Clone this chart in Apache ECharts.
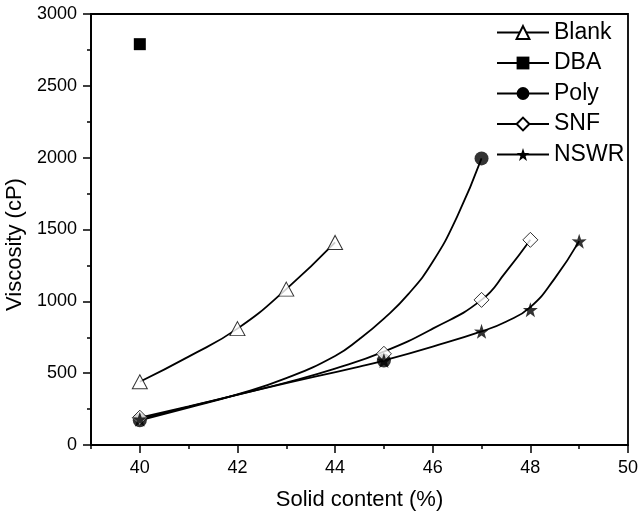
<!DOCTYPE html>
<html>
<head>
<meta charset="utf-8">
<style>
  html, body { margin: 0; padding: 0; background: #fff; }
  #chart { width: 639px; height: 518px; }
</style>
<script src="https://cdn.jsdelivr.net/npm/echarts@6/dist/echarts.min.js"></script>
</head>
<body>
<div id="chart"></div>
<script>
const blankX = [40, 42, 43, 44]
const blankY = [440, 810, 1085, 1410]
const dbaX = [40]
const dbaY = [2790]
const polyX = [40, 45, 47]
const polyY = [172, 588, 1995]
const snfX = [40, 45, 47, 48]
const snfY = [190, 635, 1010, 1428]
const nswrX = [40, 45, 47, 48, 49]
const nswrY = [180, 588, 791, 942, 1419]

// the drawn curves are fitted lines (they miss some points)
const blankFitX = [40, 41, 42, 43, 44]
const blankFitY = [440, 615, 810, 1085, 1410]
const polyFitX = [40, 41, 42, 43, 44, 44.5, 45, 45.5, 46, 46.5, 47]
const polyFitY = [172, 260, 352, 465, 620, 738, 880, 1050, 1275, 1590, 1995]
const snfFitX = [40, 41, 42, 43, 44, 45, 46, 47, 47.5, 48]
const snfFitY = [190, 268, 350, 435, 532, 650, 810, 1010, 1205, 1428]
const nswrFitX = [40, 42.5, 44.5, 45, 46, 47, 47.5, 48, 48.5, 49]
const nswrFitY = [180, 390, 546, 588, 685, 791, 858, 960, 1160, 1419]

const xTickLabels = [40, 42, 44, 46, 48, 50]
const legendNames = ['Blank', 'DBA', 'Poly', 'SNF', 'NSWR']

const fontFamily = "'Liberation Sans', Arial, sans-serif"
const starPath = 'path://M50,0 L61.8,35.1 L97.6,34.5 L69,56.3 L79.4,90.5 L50,70 L20.6,90.5 L31,56.3 L2.4,34.5 L38.2,35.1 Z'

const pairs = (xs, ys) => xs.map((x, i) => [x, ys[i]])

const openMarker = { color: '#fff', borderColor: '#000', borderWidth: 1 }
const filledMarker = { color: '#000', borderColor: '#000', borderWidth: 0 }

// one smooth fit line (carries the legend icon) + one marker layer per sample
const fitLine = (name, xs, ys, symbol, itemStyle) => ({
  type: 'line',
  name,
  data: pairs(xs, ys),
  smooth: 0.5,
  symbol,
  showSymbol: false,
  itemStyle,
  lineStyle: { color: '#000', width: 1.8 },
  emphasis: { disabled: true },
  z: 2,
})

const markers = (name, xs, ys, symbol, symbolSize, itemStyle) => ({
  type: 'scatter',
  name,
  data: pairs(xs, ys),
  symbol,
  symbolSize,
  itemStyle,
  emphasis: { disabled: true },
  z: 4,
})

const chart = echarts.init(document.getElementById('chart'), null, { renderer: 'canvas' })

chart.setOption({
  animation: false,
  textStyle: { fontFamily },
  grid: [
    { left: 91, right: 11, top: 14, bottom: 73, outerBoundsMode: 'none', show: true, borderColor: '#000', borderWidth: 1.8, backgroundColor: 'transparent' },
    { left: 91, right: 11, top: 14, bottom: 73, outerBoundsMode: 'none', show: false },
  ],
  legend: {
    data: legendNames,
    orient: 'vertical',
    left: 491,
    top: 16,
    itemWidth: 52,
    itemHeight: 16,
    itemGap: 7.5,
    selectedMode: false,
    textStyle: { fontFamily, fontSize: 23, color: '#000', lineHeight: 21 },
  },
  xAxis: [
    {
      type: 'value',
      gridIndex: 0,
      min: 39,
      max: 50,
      interval: 1,
      name: 'Solid content (%)',
      nameLocation: 'middle',
      nameGap: 44,
      nameTextStyle: { fontFamily, fontSize: 22, color: '#000' },
      axisLine: { show: true, onZero: false, lineStyle: { color: '#000', width: 1.8 } },
      axisTick: { show: true, length: 4, lineStyle: { color: '#000', width: 1.5 } },
      axisLabel: { customValues: xTickLabels, margin: 14, fontFamily, fontSize: 18, color: '#000', formatter: (v) => String(v) },
      splitLine: { show: false },
    },
    {
      type: 'value',
      gridIndex: 1,
      min: 39,
      max: 50,
      position: 'bottom',
      axisLine: { show: false, onZero: false },
      axisTick: { show: true, customValues: xTickLabels, length: 8, lineStyle: { color: '#000', width: 1.5 } },
      axisLabel: { show: false },
      splitLine: { show: false },
    },
  ],
  yAxis: [
    {
      type: 'value',
      gridIndex: 0,
      min: 0,
      max: 3000,
      interval: 500,
      name: 'Viscosity (cP)',
      nameLocation: 'middle',
      nameGap: 60,
      nameTextStyle: { fontFamily, fontSize: 22, color: '#000', padding: [0, 30, 0, 0] },
      axisLine: { show: true, onZero: false, lineStyle: { color: '#000', width: 1.8 } },
      axisTick: { show: true, length: 8, lineStyle: { color: '#000', width: 1.5 } },
      minorTick: { show: true, splitNumber: 2, length: 4, lineStyle: { color: '#000', width: 1.5 } },
      axisLabel: { margin: 14, fontFamily, fontSize: 18, color: '#000', formatter: (v) => String(v) },
      splitLine: { show: false },
    },
    {
      type: 'value',
      gridIndex: 1,
      min: 0,
      max: 3000,
      show: false,
    },
  ],
  series: [
    fitLine('Blank', blankFitX, blankFitY, 'triangle', openMarker),
    markers('Blank', blankX, blankY, 'triangle', [15, 14], openMarker),
    {
      type: 'line',
      name: 'DBA',
      data: pairs(dbaX, dbaY),
      symbol: 'rect',
      symbolSize: 12,
      itemStyle: filledMarker,
      lineStyle: { color: '#000', width: 1.8 },
      emphasis: { disabled: true },
      z: 4,
    },
    fitLine('Poly', polyFitX, polyFitY, 'circle', filledMarker),
    markers('Poly', polyX, polyY, 'circle', 14, filledMarker),
    fitLine('SNF', snfFitX, snfFitY, 'diamond', openMarker),
    markers('SNF', snfX, snfY, 'diamond', [15, 15], openMarker),
    fitLine('NSWR', nswrFitX, nswrFitY, starPath, filledMarker),
    markers('NSWR', nswrX, nswrY, starPath, 15, filledMarker),
  ],
})
</script>
</body>
</html>
